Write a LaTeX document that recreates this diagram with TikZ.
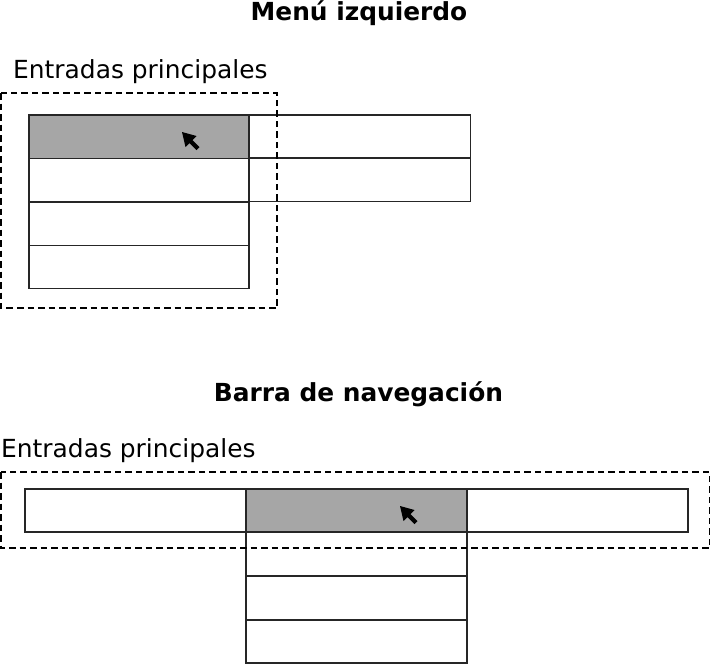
\documentclass[tikz,border=0pt]{standalone}
\usepackage{fontspec}
\setmainfont{DejaVu Sans}
\begin{document}
\begin{tikzpicture}[x=1pt,y=-1pt,
  cell/.style={draw=black!85, line width=1.6pt, fill=white, inner sep=0pt, outer sep=0pt, anchor=north west, minimum width=221pt},
  hot/.style={cell, fill=gray!70},
  frame/.style={draw=black, line width=1.5pt, dash pattern=on 6.5pt off 4pt},
  title/.style={font=\fontsize{24.85}{29}\selectfont\bfseries, anchor=base, inner sep=0pt},
  lbl/.style={font=\fontsize{24.9}{29}\selectfont, anchor=base west, inner sep=0pt},
  cursor/.style={fill=black}]
\useasboundingbox (0,0) rectangle (711,664);
% ---------- Menu izquierdo ----------
\node[title] (t1) at (359,20) {Menú izquierdo};
\node[lbl] (e1) at (13,78) {Entradas principales};
\node[cell, minimum width=221pt, minimum height=43pt] (r1) at (249.5,115) {};
\node[cell, minimum width=221pt, minimum height=43.5pt] (r2) at (249.5,158) {};
\node[hot, minimum width=220pt, minimum height=43.5pt] (a1) at (29,115) {};
\node[cell, minimum width=220pt, minimum height=43.5pt] (a2) at (29,158.5) {};
\node[cell, minimum width=220pt, minimum height=43.5pt] (a3) at (29,202) {};
\node[cell, minimum width=220pt, minimum height=43pt] (a4) at (29,245.5) {};
\fill[cursor] (182,132) -- (196.5,136) -- (192.5,140) -- (199.5,147) -- (196.5,150) -- (189.5,143) -- (185.5,147) -- cycle;
\draw[frame] (1,93) rectangle (277,308);
% ---------- Barra de navegacion ----------
\node[title] (t2) at (358.5,401) {Barra de navegación};
\node[lbl] (e2) at (1,457) {Entradas principales};
\node[cell, minimum height=43pt] (b1) at (25,489) {};
\node[hot, minimum height=43pt] (b2) at (246,489) {};
\node[cell, minimum height=43pt] (b3) at (467,489) {};
\node[cell, minimum height=44pt] (s1) at (246,532) {};
\node[cell, minimum height=44pt] (s2) at (246,576) {};
\node[cell, minimum height=43pt] (s3) at (246,620) {};
\fill[cursor] (400,506) -- (414.5,510) -- (410.5,514) -- (417.5,521) -- (414.5,524) -- (407.5,517) -- (403.5,521) -- cycle;
\draw[frame] (1,472) rectangle (709.5,548);
\end{tikzpicture}
\end{document}
